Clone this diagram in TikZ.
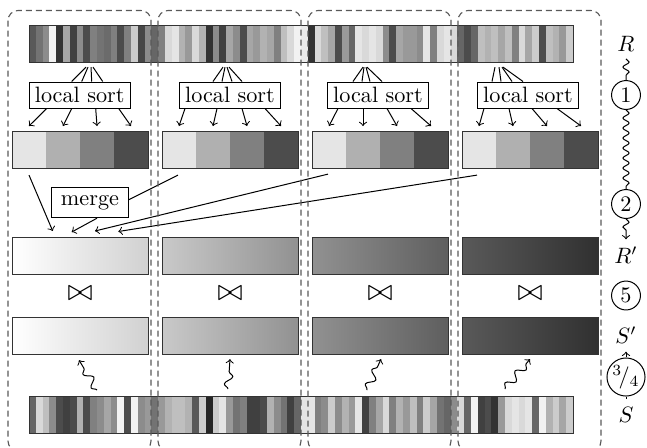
\documentclass[tikz,border=0pt]{standalone}
\usetikzlibrary{decorations.pathmorphing,calc}
\begin{document}
\begin{tikzpicture}[x=0.45pt,y=-0.45pt,
  colbox/.style={draw=black!65, line width=0.5pt, dash pattern=on 2.7pt off 1.8pt, rounded corners=4.5pt},
  outl/.style={draw=black!80, line width=0.5pt, inner sep=0pt, anchor=north west},
  blk/.style={outl, minimum width=61.2pt, minimum height=16.65pt},
  stripbox/.style={outl, minimum width=244.8pt, minimum height=16.65pt},
  sortbox/.style={draw, line width=0.45pt, inner sep=0pt, minimum width=45.5pt, minimum height=11.7pt},
  mergebox/.style={draw, line width=0.45pt, inner sep=0pt, minimum width=34.5pt, minimum height=13.5pt},
  circ/.style={circle, draw, line width=0.45pt, inner sep=0pt, minimum size=13pt},
  arr/.style={->, line width=0.45pt},
  ln/.style={line width=0.45pt},
  snk/.style={decorate, line width=0.45pt, decoration={snake, amplitude=1.4pt, segment length=4.5pt}},
  snkarr/.style={->, line width=0.45pt, decorate, decoration={snake, amplitude=1.4pt, segment length=4.5pt, post length=2.5pt}},
  wig/.style={->, line width=0.45pt, decorate, decoration={snake, amplitude=1.8pt, segment length=7pt, post length=2.5pt}},
]
\useasboundingbox (0,0) rectangle (647,447);

% ---- R strip
\foreach \g [count=\i from 0] in {0.35,0.45,0.55,0.95,0.2,0.65,0.25,0.55,0.3,0.5,0.45,0.42,0.5,0.3,0.5,0.8,0.28,0.55,
  0.4,
  0.5,0.85,0.9,0.7,0.6,0.85,0.7,0.2,0.55,0.25,0.65,0.55,0.3,0.65,0.6,0.7,0.65,0.5,0.75,0.85,0.95,
  0.92,
  0.2,0.85,0.75,0.65,0.3,0.6,0.4,0.9,0.85,0.9,0.85,0.55,0.3,0.65,0.6,0.6,0.55,0.9,0.5,0.85,0.9,
  0.85,0.4,0.3,0.4,0.75,0.7,0.75,0.65,0.75,0.5,0.85,0.65,0.8,0.3,0.75,0.7,0.6,0.8}
{\definecolor{sg}{gray}{\g}\fill[sg] (29+\i*6.8,25) rectangle (29+\i*6.8+7.0,62);}
\node[stripbox] (Rstrip) at (29,25) {};

% ---- S strip
\foreach \g [count=\i from 0] in {0.4,0.85,0.75,0.55,0.3,0.25,0.3,0.7,0.3,0.5,0.55,0.65,0.55,0.95,0.3,0.95,0.55,0.6,
  0.45,
  0.6,0.7,0.75,0.75,0.7,0.35,0.8,0.15,0.8,0.9,0.6,0.45,0.5,0.25,0.25,0.3,0.7,0.55,0.45,0.25,0.4,
  0.9,
  0.9,0.5,0.55,0.8,0.55,0.7,0.6,0.9,0.25,0.5,0.65,0.85,0.5,0.7,0.6,0.75,0.5,0.8,0.65,0.45,0.4,
  0.55,0.85,0.4,0.95,0.25,0.3,0.2,0.6,0.85,0.9,0.85,0.9,0.4,0.95,0.7,0.8,0.65,0.8}
{\definecolor{sg}{gray}{\g}\fill[sg] (29+\i*6.8,396) rectangle (29+\i*6.8+7.0,433);}
\node[stripbox] (Sstrip) at (29,396) {};

% ---- sorted blocks
\definecolor{s0}{gray}{0.9}\definecolor{s1}{gray}{0.69}\definecolor{s2}{gray}{0.5}\definecolor{s3}{gray}{0.3}
\foreach \k in {0,1,2,3}{
  \foreach \j in {0,1,2,3}{\fill[s\j] (12+150*\k+34*\j,131) rectangle +(34,37);}
  \node[blk] (srt\k) at (12+150*\k,131) {};
}

% ---- R' and S' blocks
\foreach \k/\a/\b in {0/1.0/0.82,1/0.79/0.57,2/0.57/0.37,3/0.35/0.19}{
  \definecolor{ca}{gray}{\a}\definecolor{cb}{gray}{\b}
  \shade[left color=ca,right color=cb] (12+150*\k,237) rectangle +(136,37);
  \node[blk] (Rp\k) at (12+150*\k,237) {};
  \shade[left color=ca,right color=cb] (12+150*\k,317) rectangle +(136,37);
  \node[blk] (Sp\k) at (12+150*\k,317) {};
  \node[scale=1.35] (bt\k) at (80+150*\k,294) {$\bowtie$};
}

% ---- local sort boxes
\foreach \k/\cx in {0/79.7,1/230,2/378,3/528}
  \node[sortbox] (ls\k) at (\cx,95) {local sort};

% fans from strip to local sort
\foreach \t/\b in {57/-8,59/2,62/12,64/23}
  \draw[ln] ($(Rstrip.south west)+(\t,4)$) -- ($(ls0.north)+(\b,0)$);
\foreach \t/\b in {194/-17,196/-8,198/2,200/12}
  \draw[ln] ($(Rstrip.south west)+(\t,4)$) -- ($(ls1.north)+(\b,0)$);
\foreach \t/\b in {334/-25,335/-16,337/-8,338/4}
  \draw[ln] ($(Rstrip.south west)+(\t,4)$) -- ($(ls2.north)+(\b,0)$);
\foreach \t/\b in {466/-36,470/-27,473/-16,474/-5}
  \draw[ln] ($(Rstrip.south west)+(\t,4)$) -- ($(ls3.north)+(\b,0)$);

% arrows from local sort to sorted blocks
\foreach \s [count=\j from 0] in {-33,-8,16,39}
  \draw[arr] ($(ls0.south)+(\s,0)$) -- ($(srt0.north west)+(17+34*\j,-5)$);
\foreach \s [count=\j from 0] in {-45,-13,12,35}
  \draw[arr] ($(ls1.south)+(\s,0)$) -- ($(srt1.north west)+(17+34*\j,-5)$);
\foreach \s [count=\j from 0] in {-40,-15,9,33}
  \draw[arr] ($(ls2.south)+(\s,0)$) -- ($(srt2.north west)+(17+34*\j,-5)$);
\foreach \s [count=\j from 0] in {-44,-19,4,29}
  \draw[arr] ($(ls3.south)+(\s,0)$) -- ($(srt3.north west)+(17+34*\j,-5)$);

% ---- merge
\node[mergebox] (merge) at (90,202.7) {merge};
\draw[arr] ($(srt0.south west)+(17,6)$) -- ($(Rp0.north west)+(40.7,-6)$);
\draw[arr] ($(merge.south)+(7,0)$) -- ($(Rp0.north west)+(59.7,-5)$);
\draw[ln] ($(srt1.south west)+(16,6)$) -- ($(merge.east)+(0,-3)$);
\draw[arr] ($(srt2.south west)+(16,5)$) -- ($(Rp0.north west)+(83,-6)$);
\draw[arr] ($(srt3.south west)+(15,6)$) -- ($(Rp0.north west)+(106.3,-5.5)$);

% ---- wiggly arrows from S to S'
\draw[wig] ($(Sstrip.north west)+(68,-6)$) -- ($(Sp0.south west)+(67,5)$);
\draw[wig] ($(Sstrip.north west)+(199,-7)$) -- ($(Sp1.south west)+(68,4)$);
\draw[wig] ($(Sstrip.north west)+(338,-6)$) -- ($(Sp2.south west)+(69,4)$);
\draw[wig] ($(Sstrip.north west)+(476,-7)$) -- ($(Sp3.south west)+(68,4)$);

% ---- right column
\node (lR) at (626,43.5) {$R$};
\node[circ] (c1) at (626,95) {1};
\node[circ] (c2) at (626,204) {2};
\node (lRp) at (626,255.5) {$R'$};
\node[circ] (c5) at (626,295.5) {5};
\node (lSp) at (626,335.5) {$S'$};
\node[circle,draw,line width=0.45pt,inner sep=0.3pt] (c34) at (626,377) {$^3\!/_4$};
\node (lS) at (626,414.5) {$S$};
\draw[snk] (lR) -- (c1);
\draw[snk] (c1) -- (c2);
\draw[snkarr] (c2) -- (lRp);
\draw[snk] (lS) -- (c34);
\draw[arr] (c34) -- (lSp);

% ---- dashed column frames
\begin{scope}
\clip (0,0) rectangle (647,447);
\foreach \k in {0,1,2,3}
  \draw[colbox] (8+150*\k,10.5) rectangle (151+150*\k,451);
\end{scope}
\end{tikzpicture}
\end{document}
